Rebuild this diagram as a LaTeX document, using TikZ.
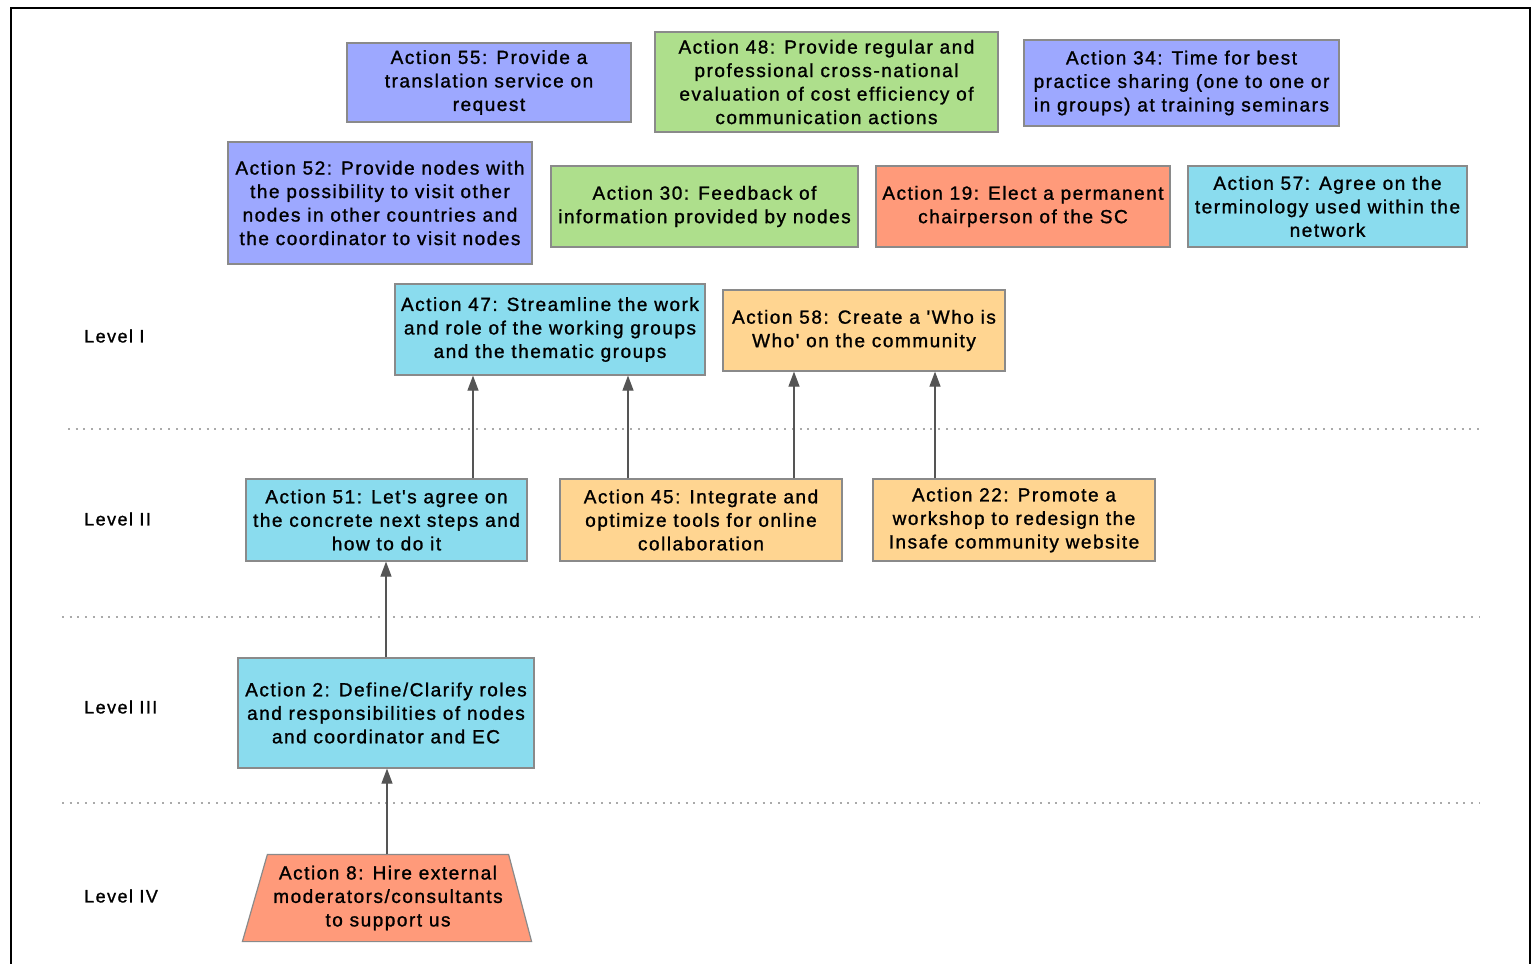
\documentclass[tikz,border=0pt]{standalone}
\usepackage{fontspec}
\setmainfont{Liberation Sans}
\newfontfamily\boxfont[LetterSpace=8,FakeBold=1.2]{Liberation Sans}
\usetikzlibrary{arrows.meta,backgrounds,calc}
\definecolor{cpurple}{HTML}{9DA8FF}
\definecolor{cgreen}{HTML}{AEDF8C}
\definecolor{ccyan}{HTML}{8ADCEE}
\definecolor{cpeach}{HTML}{FFD591}
\definecolor{csalmon}{HTML}{FF9A7A}
\definecolor{cborder}{HTML}{8A8A8A}
\definecolor{carrow}{HTML}{555555}
\definecolor{cdot}{HTML}{AAAAAA}
\tikzset{
  box/.style={draw=cborder, line width=1.2pt, rectangle, inner sep=0pt, align=center,
    font=\boxfont\fontsize{19}{23.5}\selectfont},
  purplebox/.style={box, fill=cpurple},
  greenbox/.style={box, fill=cgreen},
  cyanbox/.style={box, fill=ccyan},
  peachbox/.style={box, fill=cpeach},
  salmonbox/.style={box, fill=csalmon},
  levellabel/.style={anchor=west, inner sep=0pt, font=\boxfont\fontsize{18}{20}\selectfont},
  arr/.style={draw=carrow, line width=1.2pt, -{Triangle[length=15pt,width=11pt]}},
  sep/.style={draw=cdot, line width=1.6pt, dash pattern=on 2pt off 5.7pt},
}
\begin{document}
\begin{tikzpicture}[x=1pt,y=-1pt]
\useasboundingbox (0,0) rectangle (1532,964);
\draw[black, line width=2pt] (10.5,980) -- (10.5,7.5) -- (1529.5,7.5) -- (1529.5,980);

% separators
\draw[sep] (68,429) -- (1480,429);
\draw[sep] (62,617) -- (1480,617);
\draw[sep] (62,803) -- (1480,803);

% level labels
\node[levellabel] (L1) at (84,336) {Level I};
\node[levellabel] (L2) at (84,519) {Level II};
\node[levellabel] (L3) at (84,707) {Level III};
\node[levellabel] (L4) at (84,896) {Level IV};

% top boxes
\node[purplebox, minimum width=284, minimum height=79] (A55) at (489,82.5)
  {Action 55: Provide a\\translation service on\\request};
\node[greenbox, minimum width=343, minimum height=100] (A48) at (826.5,82)
  {Action 48: Provide regular and\\professional cross-national\\evaluation of cost efficiency of\\communication actions};
\node[purplebox, minimum width=315, minimum height=86] (A34) at (1181.5,83)
  {Action 34: Time for best\\practice sharing (one to one or\\in groups) at training seminars};
\node[purplebox, minimum width=304, minimum height=122] (A52) at (380,203)
  {Action 52: Provide nodes with\\the possibility to visit other\\nodes in other countries and\\the coordinator to visit nodes};
\node[greenbox, minimum width=307, minimum height=81] (A30) at (704.5,206.5)
  {Action 30: Feedback of\\information provided by nodes};
\node[salmonbox, minimum width=294, minimum height=81] (A19) at (1023,206.5)
  {Action 19: Elect a permanent\\chairperson of the SC};
\node[cyanbox, minimum width=279, minimum height=81] (A57) at (1327.5,206.5)
  {Action 57: Agree on the\\terminology used within the\\network};

% level I
\node[cyanbox, minimum width=310, minimum height=91] (A47) at (550,329.5)
  {Action 47: Streamline the work\\and role of the working groups\\and the thematic groups};
\node[peachbox, minimum width=282, minimum height=81] (A58) at (864,330.5)
  {Action 58: Create a 'Who is\\Who' on the community};

% level II
\node[cyanbox, minimum width=281, minimum height=82] (A51) at (386.5,520)
  {Action 51: Let's agree on\\the concrete next steps and\\how to do it};
\node[peachbox, minimum width=282, minimum height=82] (A45) at (701,520)
  {Action 45: Integrate and\\optimize tools for online\\collaboration};
\node[peachbox, minimum width=282, minimum height=82] (A22) at (1014,520)
  {Action 22: Promote a\\workshop to redesign the\\Insafe community website};

% level III
\node[cyanbox, minimum width=296, minimum height=110] (A2) at (386,713)
  {Action 2: Define/Clarify roles\\and responsibilities of nodes\\and coordinator and EC};

% level IV (trapezium)
\node[box, draw=none, minimum width=240, minimum height=86] (A8) at (388,898)
  {Action 8: Hire external\\moderators/consultants\\to support us};
\begin{scope}[on background layer]
\draw[draw=cborder, line width=1.2pt, fill=csalmon]
  (A8.north west) -- (A8.north east) -- ($(A8.south east)+(23,0)$)
  -- ($(A8.south west)+(-25,0)$) -- cycle;
\end{scope}

% arrows
\draw[arr] ([xshift=86.5pt]A51.north) -- ([xshift=86.5pt]A51.north |- A47.south);
\draw[arr] ([xshift=-73pt]A45.north) -- ([xshift=-73pt]A45.north |- A47.south);
\draw[arr] ([xshift=93pt]A45.north) -- ([xshift=93pt]A45.north |- A58.south);
\draw[arr] ([xshift=-79pt]A22.north) -- ([xshift=-79pt]A22.north |- A58.south);
\draw[arr] (A2.north) -- (A2.north |- A51.south);
\draw[arr] ([xshift=-1pt]A8.north) -- ([xshift=-1pt]A8.north |- A2.south);
\end{tikzpicture}
\end{document}
